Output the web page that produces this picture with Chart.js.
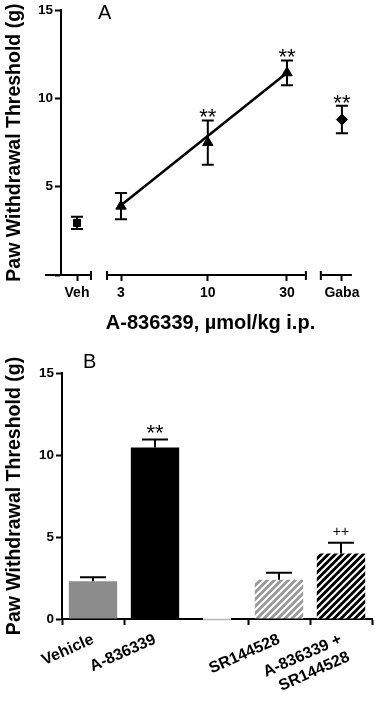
<!DOCTYPE html>
<html><head><meta charset="utf-8">
<script src="https://cdn.jsdelivr.net/npm/chart.js@4/dist/chart.umd.min.js"></script>
<style>
html,body{margin:0;padding:0;background:#fff;}
#wrap{position:relative;width:375px;height:707px;overflow:hidden;background:#fff;}
#cA{position:absolute;left:0;top:0;}
#cB{position:absolute;left:0;top:340px;}
</style></head><body>
<div id="wrap"><canvas id="cA" width="375" height="340"></canvas><canvas id="cB" width="375" height="367"></canvas></div>
<script>
// ---------- Panel A data ----------
const doseTickLabels = ['Veh', '3', '10', '30', 'Gaba'];
const doses = [3, 10, 30];
const doseMeans = [3.9, 7.5, 11.45];
const doseErrs = [0.75, 1.25, 0.7];
const doseSig = ['', '**', '**'];
const vehMean = 2.95, vehErr = 0.35;
const gabaMean = 8.8, gabaErr = 0.78, gabaSig = '**';
const fitDoses = [3, 30];
const fitValues = [3.95, 11.45];
const yTicksA = [0, 5, 10, 15];

// ---------- Panel B data ----------
const groupsB = ['Vehicle', 'A-836339', '', 'SR144528', ['A-836339 +', 'SR144528']];
const meansB = [2.3, 10.45, null, 2.4, 4.0];
const errsB = [0.25, 0.5, null, 0.42, 0.65];
const sigB = ['', '**', '', '', '++'];
const yTicksB = [0, 5, 10, 15];

// axis positions (log10 dose units) for the segmented x axis of panel A
const VEH_POS = 0.212, GABA_POS = 1.808;
const X_MIN_A = 0.1156, X_MAX_A = 1.917;
const SEGMENTS_A = [[0.019, 0.296, false, true], [0.393, 1.591, true, true], [1.681, 1.868, true, false]];
const xTickPosA = [VEH_POS, Math.log10(3), Math.log10(10), Math.log10(30), GABA_POS];

const FONT = "'Liberation Sans', Arial, Helvetica, sans-serif";
Chart.defaults.font.family = FONT;
Chart.defaults.color = '#000';

function hatch(ctx, base) {
  const s = 7;
  const c = document.createElement('canvas');
  c.width = s; c.height = s;
  const g = c.getContext('2d');
  g.fillStyle = base; g.fillRect(0, 0, s, s);
  g.strokeStyle = '#fff'; g.lineWidth = 2;
  g.beginPath();
  g.moveTo(-1, 1); g.lineTo(1, -1);
  g.moveTo(0, s); g.lineTo(s, 0);
  g.moveTo(s - 1, s + 1); g.lineTo(s + 1, s - 1);
  g.stroke();
  return ctx.createPattern(c, 'repeat');
}

// ---------- Panel A ----------
const errorBarsA = {
  id: 'errorBarsA',
  beforeDatasetsDraw(chart) {
    const { ctx, scales: { x, y } } = chart;
    const pts = doses.map((d, i) => [Math.log10(d), doseMeans[i], doseErrs[i]]);
    pts.push([VEH_POS, vehMean, vehErr]);
    pts.push([GABA_POS, gabaMean, gabaErr]);
    ctx.save();
    ctx.strokeStyle = '#000'; ctx.lineWidth = 2;
    pts.forEach(([xv, m, e]) => {
      const px = x.getPixelForValue(xv);
      const top = y.getPixelForValue(m + e), bot = y.getPixelForValue(m - e);
      ctx.beginPath();
      ctx.moveTo(px, top); ctx.lineTo(px, bot);
      ctx.moveTo(px - 6, top); ctx.lineTo(px + 6, top);
      ctx.moveTo(px - 6, bot); ctx.lineTo(px + 6, bot);
      ctx.stroke();
    });
    ctx.restore();
  },
  afterDraw(chart) {
    const { ctx, scales: { x, y } } = chart;
    ctx.save();
    // segmented x axis
    const py = y.getPixelForValue(0);
    ctx.strokeStyle = '#000'; ctx.lineWidth = 2;
    SEGMENTS_A.forEach(([a, b, capL, capR]) => {
      const x1 = x.getPixelForValue(a), x2 = x.getPixelForValue(b);
      ctx.beginPath();
      ctx.moveTo(x1, py); ctx.lineTo(x2, py);
      if (capL) { ctx.moveTo(x1, py - 4); ctx.lineTo(x1, py + 5); }
      if (capR) { ctx.moveTo(x2, py - 4); ctx.lineTo(x2, py + 5); }
      ctx.stroke();
    });
    // significance marks
    ctx.fillStyle = '#000';
    ctx.font = '22px ' + FONT;
    ctx.textAlign = 'center'; ctx.textBaseline = 'alphabetic';
    doses.forEach((d, i) => {
      if (!doseSig[i]) return;
      ctx.fillText(doseSig[i], x.getPixelForValue(Math.log10(d)), y.getPixelForValue(doseMeans[i] + doseErrs[i]) + 4);
    });
    ctx.fillText(gabaSig, x.getPixelForValue(GABA_POS), y.getPixelForValue(gabaMean + gabaErr) + 4);
    // panel letter
    ctx.font = '20px ' + FONT;
    ctx.textAlign = 'left';
    ctx.fillText('A', 98, 19);
    ctx.restore();
  }
};

new Chart(document.getElementById('cA'), {
  type: 'scatter',
  data: {
    datasets: [
      { label: 'fit', type: 'line', data: fitDoses.map((d, i) => ({ x: Math.log10(d), y: fitValues[i] })),
        borderColor: '#000', borderWidth: 2.5, pointRadius: 0, fill: false, order: 2 },
      { label: 'A-836339', data: doses.map((d, i) => ({ x: Math.log10(d), y: doseMeans[i] })),
        pointStyle: 'triangle', pointRadius: 6, backgroundColor: '#000', borderColor: '#000', borderWidth: 1, order: 1 },
      { label: 'Vehicle', data: [{ x: VEH_POS, y: vehMean }],
        pointStyle: 'rect', pointRadius: 5, backgroundColor: '#000', borderColor: '#000', borderWidth: 1, order: 1 },
      { label: 'Gabapentin', data: [{ x: GABA_POS, y: gabaMean }],
        pointStyle: 'rectRot', pointRadius: 5.5, backgroundColor: '#000', borderColor: '#000', borderWidth: 1, order: 1 }
    ]
  },
  options: {
    responsive: false, animation: false,
    plugins: { legend: { display: false }, tooltip: { enabled: false } },
    layout: { padding: { top: 10, right: 15, left: 0, bottom: 0 } },
    scales: {
      x: {
        type: 'linear', min: X_MIN_A, max: X_MAX_A,
        afterBuildTicks: s => { s.ticks = xTickPosA.map(v => ({ value: v })); },
        afterFit: s => { s.height = 65; },
        ticks: { callback: (v, i) => doseTickLabels[i], font: { size: 14, weight: 'bold' }, color: '#000', padding: 4, maxRotation: 0, autoSkip: false },
        grid: { drawOnChartArea: false, drawTicks: true, tickLength: 6, tickColor: '#000', tickWidth: 2 },
        border: { display: false },
        title: { display: true, text: 'A-836339, µmol/kg i.p.', font: { size: 20, weight: 'bold' }, color: '#000', padding: { top: 2, bottom: 5 } }
      },
      y: {
        min: 0, max: 15,
        afterBuildTicks: s => { s.ticks = yTicksA.map(v => ({ value: v })); },
        afterFit: s => { s.width = 61; },
        ticks: { callback: v => (v === 0 ? '' : String(v)), font: { size: 13.5, weight: 'bold' }, color: '#000', padding: 2 },
        grid: { drawOnChartArea: false, drawTicks: true, tickLength: 6, tickColor: '#000', tickWidth: 2 },
        border: { display: true, color: '#000', width: 2 },
        title: { display: true, text: 'Paw Withdrawal Threshold (g)', font: { size: 19.5, weight: 'bold' }, color: '#000', padding: { top: 3, bottom: 0 } }
      }
    }
  },
  plugins: [errorBarsA]
});

// ---------- Panel B ----------
const cB = document.getElementById('cB');
const ctxB = cB.getContext('2d');
const barColorsB = ['#8c8c8c', '#000000', 'rgba(0,0,0,0)', hatch(ctxB, '#999999'), hatch(ctxB, '#000000')];

const decoB = {
  id: 'decoB',
  afterDatasetsDraw(chart) {
    const { ctx, scales: { x, y } } = chart;
    ctx.save();
    ctx.strokeStyle = '#000'; ctx.lineWidth = 2;
    meansB.forEach((m, i) => {
      if (m === null) return;
      const px = x.getPixelForValue(i);
      const top = y.getPixelForValue(m + errsB[i]), base = y.getPixelForValue(m);
      ctx.beginPath();
      ctx.moveTo(px, base); ctx.lineTo(px, top);
      ctx.moveTo(px - 13, top); ctx.lineTo(px + 13, top);
      ctx.stroke();
    });
    ctx.fillStyle = '#000'; ctx.textAlign = 'center'; ctx.textBaseline = 'alphabetic';
    sigB.forEach((s, i) => {
      if (!s) return;
      const top = y.getPixelForValue(meansB[i] + errsB[i]);
      if (s === '++') { ctx.font = '14px ' + FONT; ctx.fillText(s, x.getPixelForValue(i), top - 7); }
      else { ctx.font = '22px ' + FONT; ctx.fillText(s, x.getPixelForValue(i), top + 1); }
    });
    ctx.restore();
  },
  afterDraw(chart) {
    const { ctx, scales: { x, y } } = chart;
    ctx.save();
    // spacer column on the axis
    const px = x.getPixelForValue(2), py = y.getPixelForValue(0);
    ctx.fillStyle = '#fff';
    ctx.fillRect(px - 14, py - 2, 28, 4);
    ctx.strokeStyle = '#b4b4b4'; ctx.lineWidth = 1.5;
    ctx.beginPath(); ctx.moveTo(px - 14, py + 0.5); ctx.lineTo(px + 14, py + 0.5); ctx.stroke();
    ctx.fillStyle = '#000';
    ctx.font = '20px ' + FONT; ctx.textAlign = 'left'; ctx.textBaseline = 'alphabetic';
    ctx.fillText('B', 83, 28);
    ctx.restore();
  }
};

new Chart(cB, {
  type: 'bar',
  data: {
    labels: groupsB,
    datasets: [{ label: 'Paw withdrawal threshold', data: meansB, backgroundColor: barColorsB, borderWidth: 0,
      barPercentage: 0.78, categoryPercentage: 1.0 }]
  },
  options: {
    responsive: false, animation: false,
    plugins: { legend: { display: false }, tooltip: { enabled: false } },
    layout: { padding: { top: 33, right: 3, left: 0, bottom: 0 } },
    scales: {
      x: {
        afterFit: s => { s.height = 88; },
        ticks: { font: { size: 16, weight: 'bold' }, color: '#000', minRotation: 24, maxRotation: 24, autoSkip: false, padding: 5 },
        grid: { drawOnChartArea: false, drawTicks: true, tickLength: 6, tickWidth: 2,
          tickColor: c => (c.index === 2 ? 'rgba(0,0,0,0)' : '#000') },
        border: { display: true, color: '#000', width: 2 }
      },
      y: {
        min: 0, max: 15,
        afterBuildTicks: s => { s.ticks = yTicksB.map(v => ({ value: v })); },
        afterFit: s => { s.width = 62; },
        ticks: { font: { size: 13.5, weight: 'bold' }, color: '#000', padding: 2 },
        grid: { drawOnChartArea: false, drawTicks: true, tickLength: 6, tickColor: '#000', tickWidth: 2 },
        border: { display: true, color: '#000', width: 2 },
        title: { display: true, text: 'Paw Withdrawal Threshold (g)', font: { size: 19.5, weight: 'bold' }, color: '#000', padding: { top: 3, bottom: 0 } }
      }
    }
  },
  plugins: [decoB]
});
</script>
</body></html>
